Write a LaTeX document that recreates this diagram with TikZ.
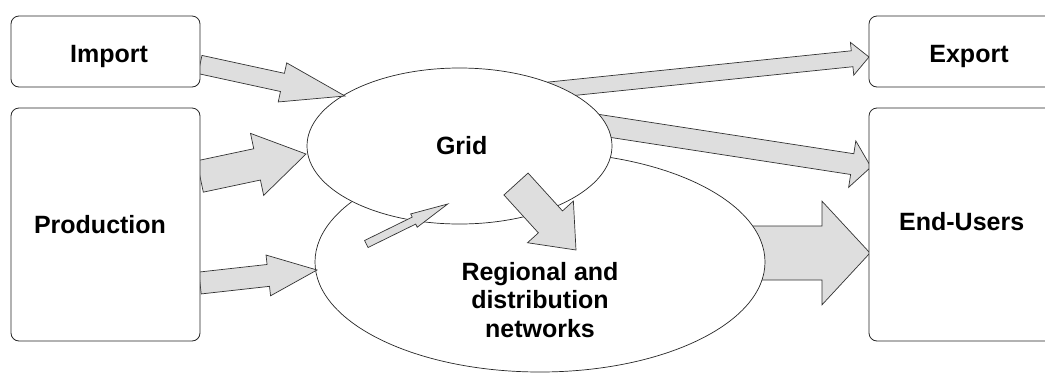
\documentclass[tikz,border=0pt]{standalone}
\usepackage{fontspec}
\setmainfont{Liberation Sans}
\usetikzlibrary{calc,shapes.geometric}
\tikzset{
  box/.style={draw=black!85, line width=0.8pt, rounded corners=8pt, fill=white, inner sep=0pt, outer sep=0pt, anchor=north west},
  oval/.style={ellipse, draw=black!85, line width=0.7pt, fill=white, inner sep=0pt, outer sep=0pt},
  lbl/.style={font=\fontsize{25}{28.5}\selectfont\bfseries, inner sep=0pt, outer sep=0pt, align=center},
  blockarrow/.style={draw=black!80, line width=0.7pt, fill=black!13, line join=miter},
}
\newcommand\blkarrow[5]{%
  \coordinate (#1#2b) at ($(#2)!#5!(#1)$);
  \draw[blockarrow] ($(#1)!#3!90:(#2)$) -- ($(#1#2b)!#3!-90:(#1)$) -- ($(#1#2b)!#4!-90:(#1)$) -- (#2) -- ($(#1#2b)!#4!90:(#1)$) -- ($(#1#2b)!#3!90:(#1)$) -- ($(#1)!#3!-90:(#2)$) -- cycle;
}
\begin{document}
\begin{tikzpicture}[x=1pt, y=-1pt]
\clip (0,0) rectangle (1045,373);
\fill[white] (0,0) rectangle (1045,373);

% arrow ends
\coordinate (aIt) at (200,64.5);   \coordinate (aIh) at (345,96);
\coordinate (aPt) at (200,176.5);  \coordinate (aPh) at (306,154);
\coordinate (aQt) at (200,283);    \coordinate (aQh) at (317,270);
\coordinate (aEt) at (530,92);     \coordinate (aEh) at (869,57);
\coordinate (aUt) at (560,119);    \coordinate (aUh) at (871,167);
\coordinate (aGt) at (516,184);    \coordinate (aGh) at (576,250);
\coordinate (aSt) at (366.3,244);  \coordinate (aSh) at (447.7,204);
\coordinate (aRt) at (700,253);    \coordinate (aRh) at (870,253);

% regional -> end-users (tail hidden under regional)
\blkarrow{aRt}{aRh}{27pt}{51.8pt}{48pt}
\node[oval, minimum width=450pt, minimum height=220pt] (regional) at (540,262) {};

% grid -> export, grid -> end-users (tails hidden under grid)
\blkarrow{aEt}{aEh}{8pt}{16.5pt}{17pt}
\blkarrow{aUt}{aUh}{10.5pt}{23.5pt}{19pt}
\node[oval, minimum width=305pt, minimum height=156pt] (grid) at (459.5,146) {};

% incoming arrows
\blkarrow{aIt}{aIh}{9.3pt}{20pt}{64pt}
\blkarrow{aPt}{aPh}{16pt}{31.7pt}{50pt}
\blkarrow{aQt}{aQh}{11pt}{20.5pt}{49pt}
\blkarrow{aGt}{aGh}{16.3pt}{31pt}{38pt}
\blkarrow{aSt}{aSh}{3.9pt}{7.4pt}{37.6pt}

% boxes
\node[box, minimum width=189pt, minimum height=71pt] (importbox) at (11,16) {};
\node[box, minimum width=189pt, minimum height=233pt] (prodbox) at (11,108) {};
\node[box, minimum width=215pt, minimum height=71pt] (exportbox) at (869,16) {};
\node[box, minimum width=215pt, minimum height=233pt] (endbox) at (869,108) {};

% labels
\node[lbl, anchor=base] (importlbl) at (109,62.3) {Import};
\node[lbl, anchor=base] (prodlbl) at (100,233.3) {Production};
\node[lbl, anchor=base] (exportlbl) at (969,62.3) {Export};
\node[lbl, anchor=base] (endlbl) at (961.7,230) {End-Users};
\node[lbl, anchor=base] (gridlbl) at (461.7,154) {Grid};
\node[lbl] (reglbl) at (540,300) {Regional and\\distribution\\networks};
\end{tikzpicture}
\end{document}
